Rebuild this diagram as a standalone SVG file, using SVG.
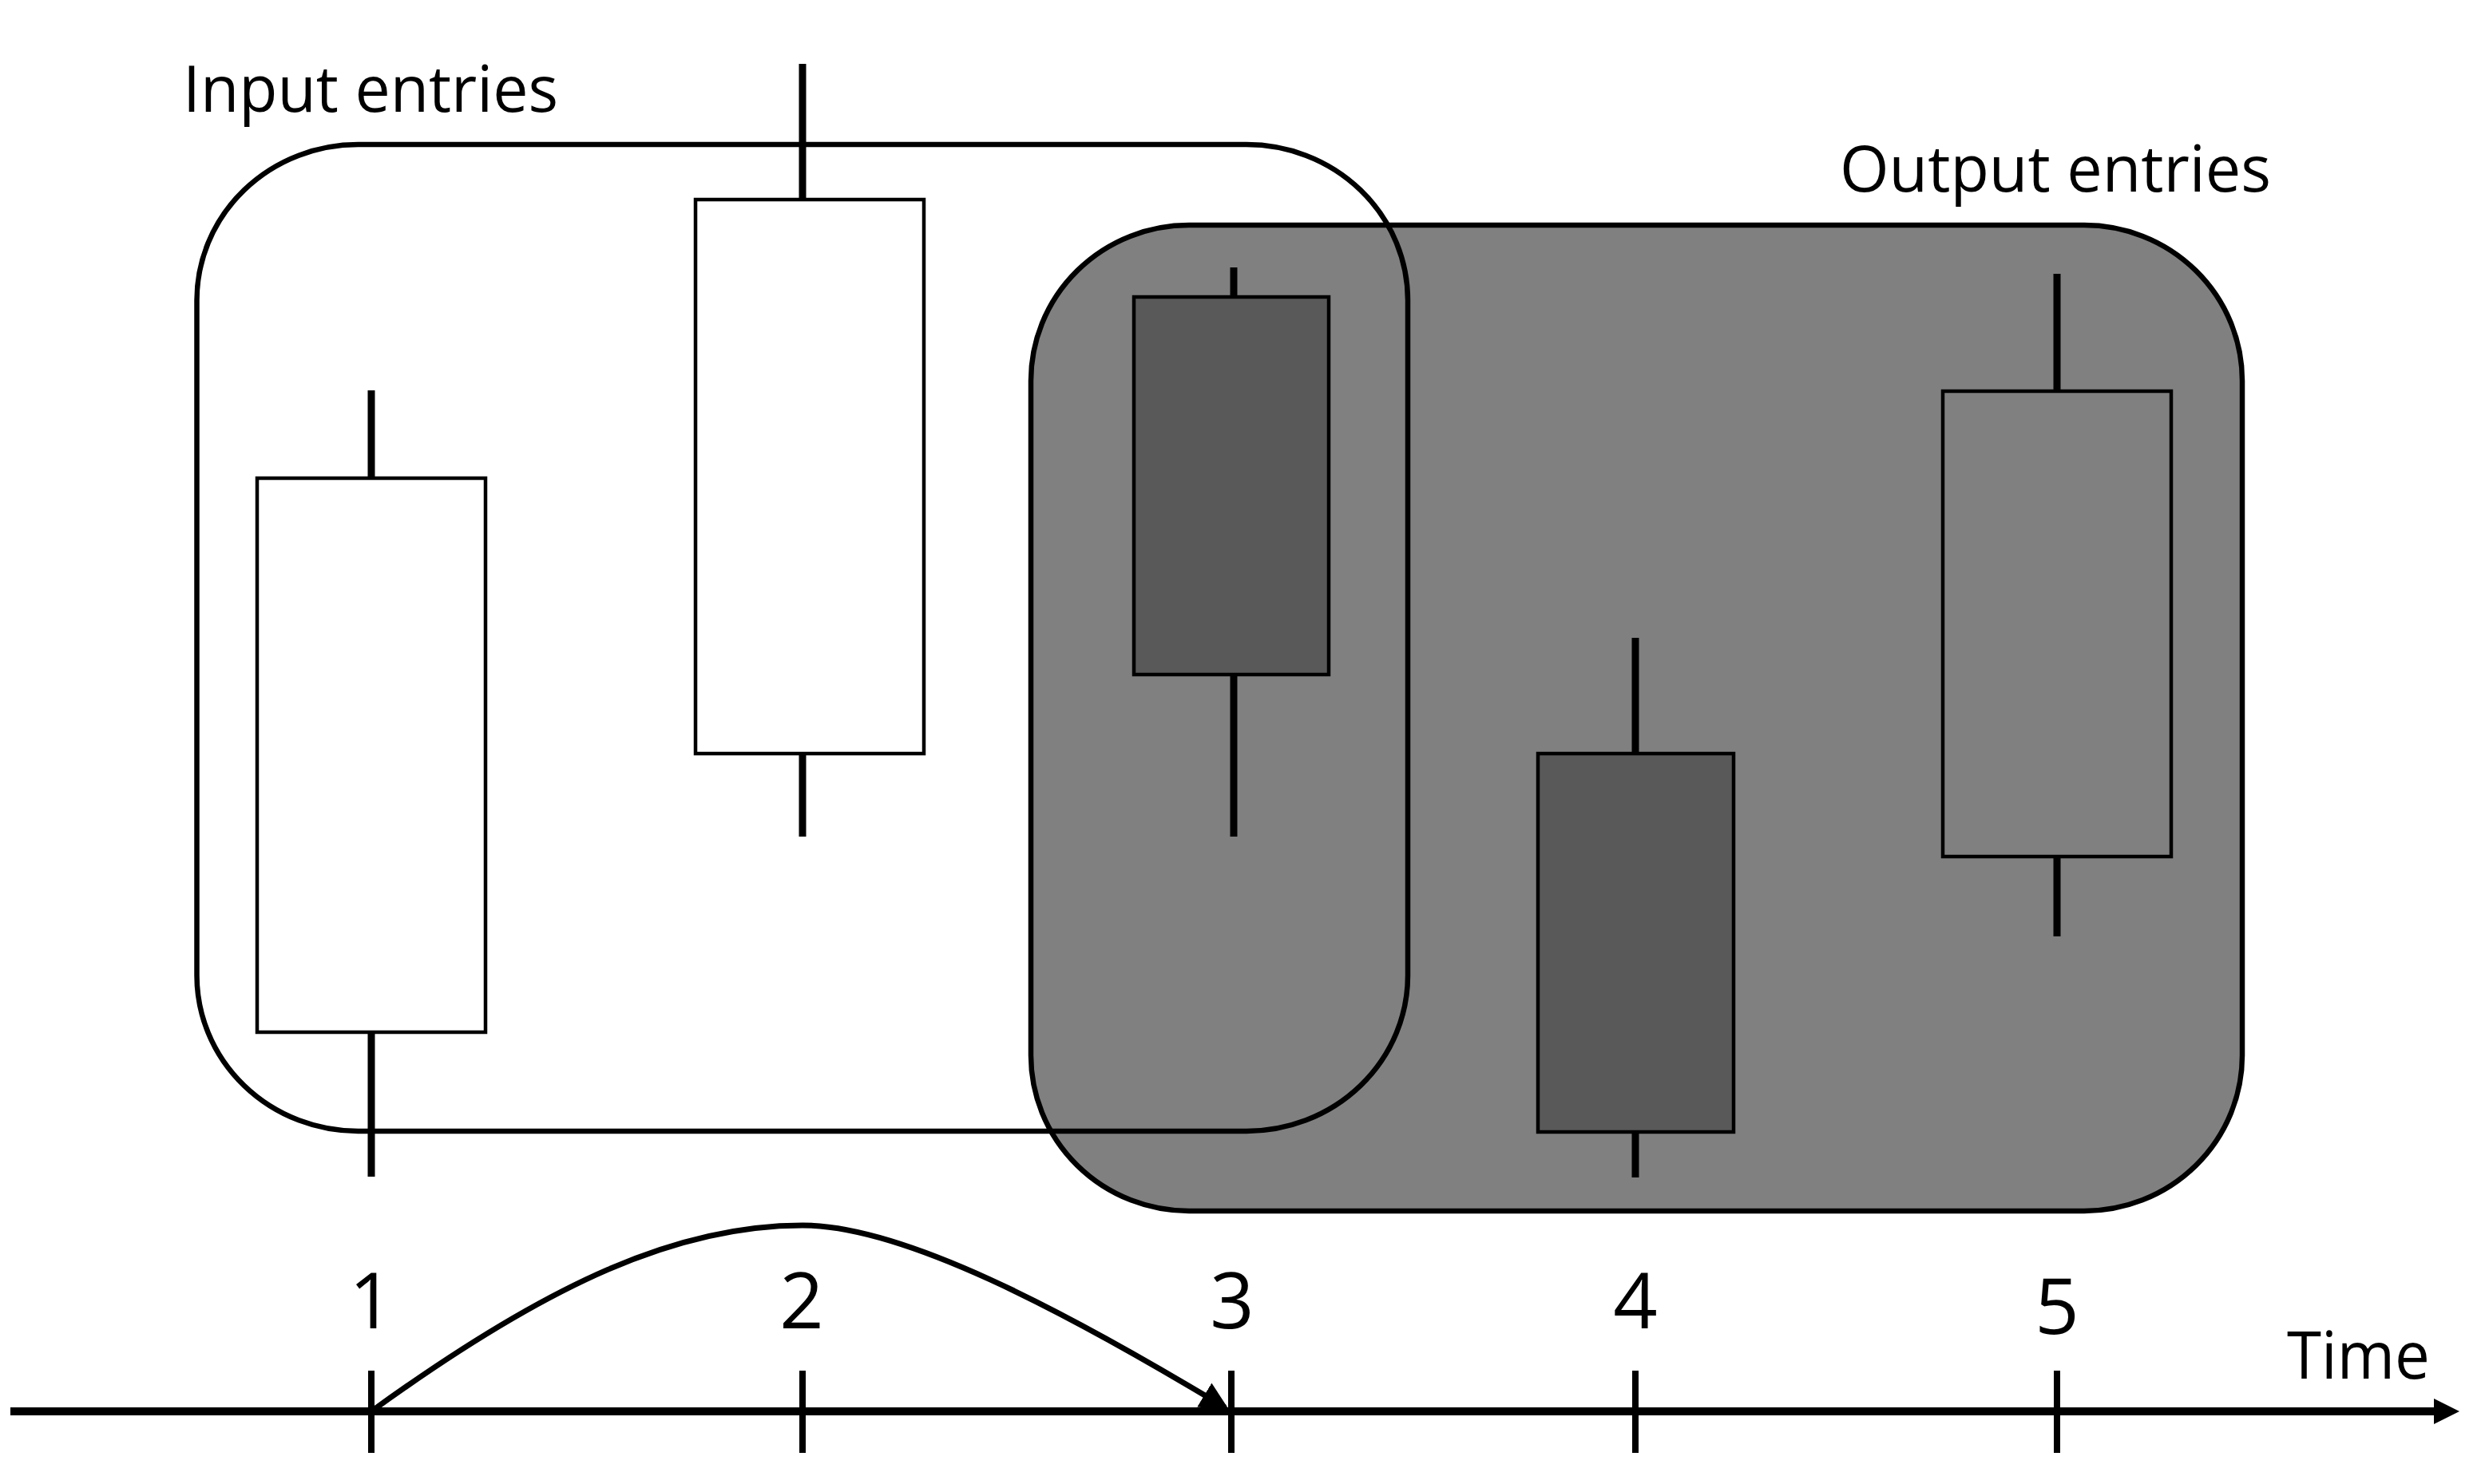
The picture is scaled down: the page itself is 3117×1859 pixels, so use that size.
<svg xmlns="http://www.w3.org/2000/svg" width="3117" height="1859" viewBox="0 0 3117 1859">
  <style>
    .lbl { font-family: "Open Sans", "Noto Sans", sans-serif; fill: #000; }
    .big { fill: none; stroke: #000; stroke-width: 6.5; }
    .body { stroke: #000; stroke-width: 4.5; }
    .wick { stroke: #000; stroke-width: 9; fill: none; }
    .tick { stroke: #000; stroke-width: 8; fill: none; }
  </style>
  <defs>
    <marker id="arr" markerUnits="userSpaceOnUse" markerWidth="40" markerHeight="40" viewBox="0 -20 40 40" refX="30" refY="0" orient="auto">
      <path d="M0,-17.5 L36,0 L0,17.5 Z" fill="#000"/>
    </marker>
  </defs>
  <rect width="3117" height="1859" fill="#fff"/>

  <g id="output-group">
    <rect x="1291" y="282" width="1517" height="1235" rx="198" ry="195" fill="#808080" stroke="#000" stroke-width="6.5"/>
    <text class="lbl" x="2304" y="240" font-size="80" textLength="540" lengthAdjust="spacingAndGlyphs">Output entries</text>
  </g>

  <g id="input-group">
    <rect class="big" x="246.5" y="181" width="1516.5" height="1236" rx="202" ry="195"/>
    <text class="lbl" x="229" y="140" font-size="80" textLength="470" lengthAdjust="spacingAndGlyphs">Input entries</text>
  </g>

  <g id="candle-1">
    <line class="wick" x1="465" y1="489" x2="465" y2="599"/>
    <line class="wick" x1="465" y1="1293" x2="465" y2="1474"/>
    <rect class="body" x="322" y="599" width="286" height="694" fill="#fff"/>
  </g>
  <g id="candle-2">
    <line class="wick" x1="1005" y1="80" x2="1005" y2="250"/>
    <line class="wick" x1="1005" y1="944" x2="1005" y2="1048"/>
    <rect class="body" x="871" y="250" width="286" height="694" fill="#fff"/>
  </g>
  <g id="candle-3">
    <line class="wick" x1="1545" y1="335" x2="1545" y2="372"/>
    <line class="wick" x1="1545" y1="845" x2="1545" y2="1048"/>
    <rect class="body" x="1420" y="372" width="244" height="473" fill="#595959"/>
  </g>
  <g id="candle-4">
    <line class="wick" x1="2048" y1="799" x2="2048" y2="944"/>
    <line class="wick" x1="2048" y1="1418" x2="2048" y2="1475"/>
    <rect class="body" x="1926" y="944" width="245" height="474" fill="#595959"/>
  </g>
  <g id="candle-5">
    <line class="wick" x1="2576" y1="343" x2="2576" y2="490"/>
    <line class="wick" x1="2576" y1="1073" x2="2576" y2="1173"/>
    <rect class="body" x="2433" y="490" width="286" height="583" fill="#808080"/>
  </g>

  <g id="axis">
    <line x1="13" y1="1768" x2="3052" y2="1768" stroke="#000" stroke-width="10"/>
    <polygon points="3048,1752 3080,1768 3048,1784" fill="#000"/>
    <line class="tick" x1="465" y1="1717" x2="465" y2="1820"/>
    <line class="tick" x1="1005" y1="1717" x2="1005" y2="1820"/>
    <line class="tick" x1="1542" y1="1717" x2="1542" y2="1820"/>
    <line class="tick" x1="2048" y1="1717" x2="2048" y2="1820"/>
    <line class="tick" x1="2576" y1="1717" x2="2576" y2="1820"/>
    <text class="lbl" x="465" y="1664" font-size="97" text-anchor="middle">1</text>
    <text class="lbl" x="1004" y="1664" font-size="97" text-anchor="middle">2</text>
    <text class="lbl" x="1543" y="1664" font-size="97" text-anchor="middle">3</text>
    <text class="lbl" x="2048" y="1664" font-size="97" text-anchor="middle">4</text>
    <text class="lbl" x="2576" y="1671" font-size="97" text-anchor="middle">5</text>
    <text class="lbl" x="2864" y="1727" font-size="82" textLength="179" lengthAdjust="spacingAndGlyphs">Time</text>
  </g>

  <g id="connectors">
    <path d="M465,1768 C690,1605 850,1535 1005,1535 C1130,1535 1330,1640 1534,1763" fill="none" stroke="#000" stroke-width="7" marker-end="url(#arr)"/>
  </g>
</svg>
